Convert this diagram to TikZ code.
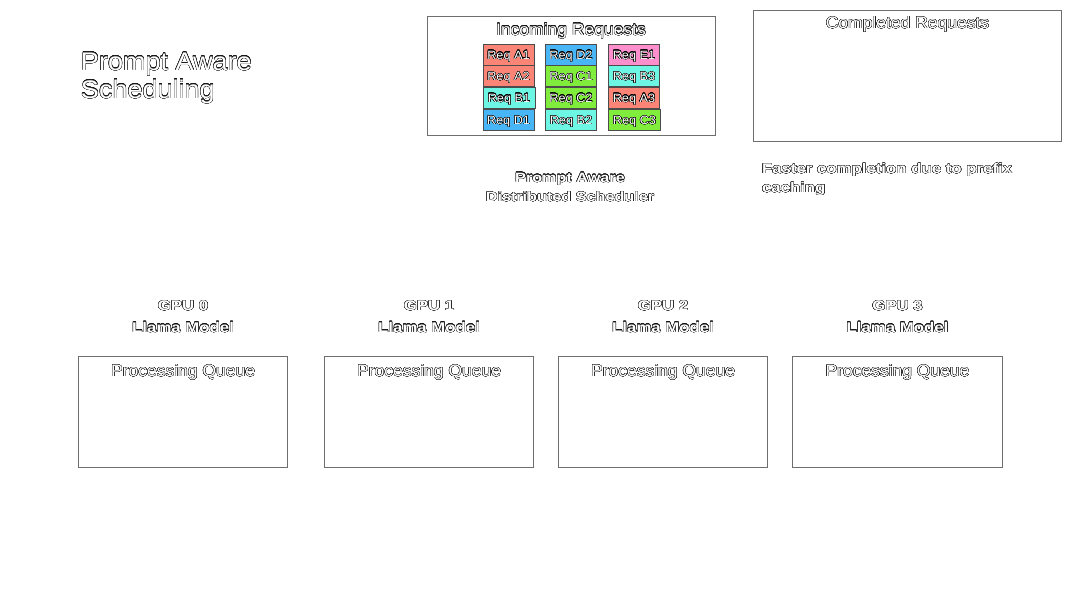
\documentclass[tikz,border=0pt]{standalone}
\usepackage{fontspec}
\setmainfont{Liberation Sans}[FakeStretch=1.06]
\newfontfamily\boldfam{Liberation Sans}[FakeStretch=1.2]
\usepackage[copies]{contour}
\contourlength{0.3pt}
\contournumber{20}
\newcommand{\otx}[1]{\contour{black!90}{#1}}
\newcommand{\otxs}[1]{\contourlength{0.38pt}\contour{black}{#1}}
\definecolor{reqA}{RGB}{250,132,118}
\definecolor{reqB}{RGB}{110,246,228}
\definecolor{reqC}{RGB}{128,236,60}
\definecolor{reqD}{RGB}{72,182,246}
\definecolor{reqE}{RGB}{255,142,204}
\definecolor{frame}{RGB}{110,110,110}
\tikzset{
  oltext/.style={text=white, inner sep=0pt, outer sep=0pt, anchor=base},
  regtext/.style={oltext, font=\fontsize{16.5}{19}\selectfont},
  boldtext/.style={oltext, font=\boldfam\bfseries\fontsize{14}{17}\selectfont},
  panel/.style={draw=frame, line width=1pt, fill=white, inner sep=0pt, outer sep=0pt, anchor=north west},
  reqbox/.style={draw=black!70, line width=0.8pt, minimum width=51pt, minimum height=21pt, inner sep=0pt, outer sep=0pt, text=white, text height=9pt, text depth=0pt, font=\fontsize{12}{14}\selectfont},
}
\begin{document}
\begin{tikzpicture}[x=1pt,y=-1pt]
\fill[white] (0,0) rectangle (1080,608);
\useasboundingbox (0,0) rectangle (1080,608);

% title
\node[oltext, anchor=base west, font=\fontsize{25.5}{28}\selectfont] (title1) at (81,70) {\otx{Prompt Aware}};
\node[oltext, anchor=base west, font=\fontsize{25.5}{28}\selectfont] (title2) at (81,98) {\otx{Scheduling}};

% incoming requests panel
\node[panel, minimum width=287.7pt, minimum height=119.7pt] (inc) at (427.3,16) {};
\node[regtext] (inclabel) at (571,35) {\otx{Incoming Requests}};

\node[reqbox, fill=reqA] (rA1) at (508.5,54.5) {\otxs{Req A1}};
\node[reqbox, fill=reqA] (rA2) at (508.5,76) {\otxs{Req A2}};
\node[reqbox, fill=reqB, minimum width=52pt] (rB1) at (509,97.5) {\otxs{Req B1}};
\node[reqbox, fill=reqD] (rD1) at (508.5,120) {\otxs{Req D1}};

\node[reqbox, fill=reqD] (rD2) at (571,54.5) {\otxs{Req D2}};
\node[reqbox, fill=reqC] (rC1) at (571,76) {\otxs{Req C1}};
\node[reqbox, fill=reqC] (rC2) at (571,97.5) {\otxs{Req C2}};
\node[reqbox, fill=reqB] (rB2) at (571,120) {\otxs{Req B2}};

\node[reqbox, fill=reqE] (rE1) at (634,54.5) {\otxs{Req E1}};
\node[reqbox, fill=reqB] (rB3) at (634,76) {\otxs{Req B3}};
\node[reqbox, fill=reqA] (rA3) at (634,97.5) {\otxs{Req A3}};
\node[reqbox, fill=reqC, minimum width=52pt] (rC3) at (634.5,120) {\otxs{Req C3}};

% completed requests panel
\node[panel, minimum width=308.4pt, minimum height=131pt] (done) at (753.3,10.5) {};
\node[regtext] (donelabel) at (907.5,28.5) {\otx{Completed Requests}};

\node[boldtext, anchor=base west] (fast1) at (762,173.5) {\otx{Faster completion due to prefix}};
\node[boldtext, anchor=base west] (fast2) at (762,192.5) {\otx{caching}};

% scheduler
\node[boldtext, font=\boldfam\bfseries\fontsize{13.5}{16}\selectfont] (sched1) at (570,182) {\otx{Prompt Aware}};
\node[boldtext, font=\boldfam\bfseries\fontsize{13.5}{16}\selectfont] (sched2) at (570,201.5) {\otx{Distributed Scheduler}};

% GPUs
\foreach \i/\x in {0/78.3,1/324.3,2/558.3,3/792.7}{
  \node[boldtext] (gpu\i) at ({\x+104.8},310.5) {\otx{GPU \i}};
  \node[boldtext] (model\i) at ({\x+104.8},332) {\otx{Llama Model}};
  \node[panel, minimum width=209.5pt, minimum height=110.8pt] (queue\i) at (\x,356.2) {};
  \node[regtext] (qlabel\i) at ({\x+104.8},376.5) {\otx{Processing Queue}};
}
\end{tikzpicture}
\end{document}
